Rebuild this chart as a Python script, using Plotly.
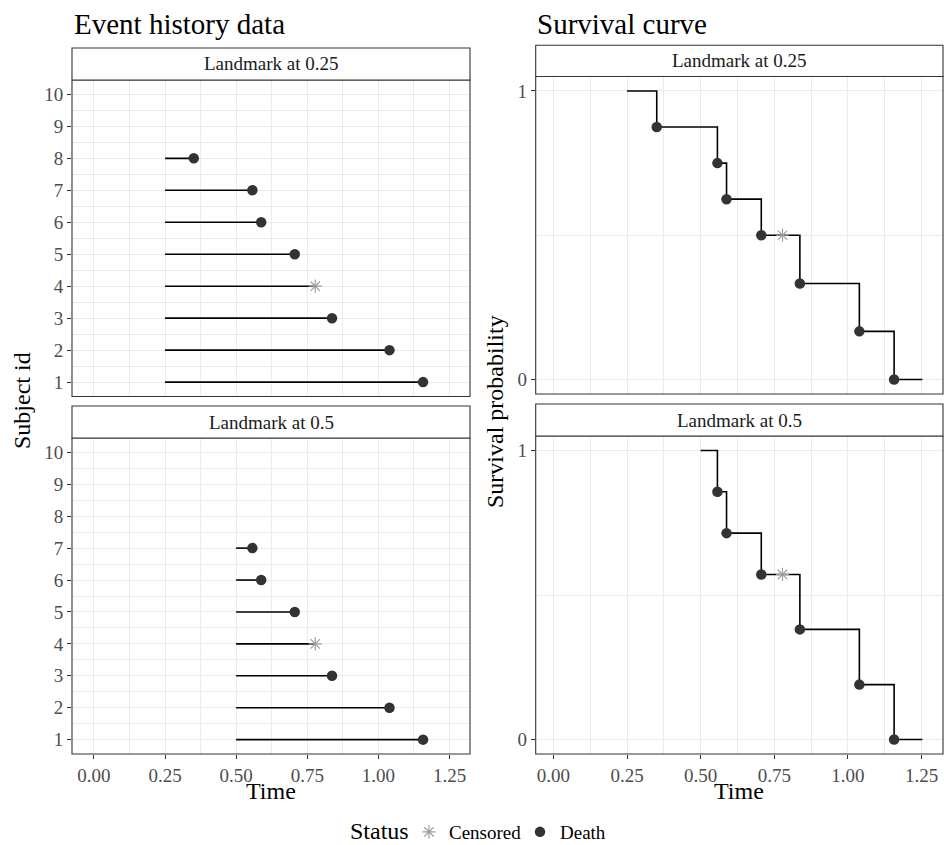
import plotly.graph_objects as go

W, H = 944, 845
FONT = "Liberation Serif"

# ---------------- data ----------------
subject_ids = [1, 2, 3, 4, 5, 6, 7, 8]
event_times = [1.157, 1.039, 0.837, 0.778, 0.706, 0.588, 0.557, 0.351]
event_status = ["Death", "Death", "Death", "Censored", "Death", "Death", "Death", "Death"]
landmarks = [0.25, 0.5]
strip_labels = ["Landmark at 0.25", "Landmark at 0.5"]

# survival curves
surv_times = {
    0.25: [0.25, 0.351, 0.557, 0.588, 0.706, 0.778, 0.837, 1.039, 1.157, 1.253],
    0.5: [0.5, 0.557, 0.588, 0.706, 0.778, 0.837, 1.039, 1.157, 1.253],
}
surv_probs = {
    0.25: [1.0, 0.875, 0.75, 0.625, 0.5, 0.5, 0.333, 0.167, 0.0, 0.0],
    0.5: [1.0, 0.857, 0.714, 0.571, 0.571, 0.381, 0.190, 0.0, 0.0],
}
surv_status = {
    0.25: [None, "Death", "Death", "Death", "Death", "Censored", "Death", "Death", "Death", None],
    0.5: [None, "Death", "Death", "Death", "Censored", "Death", "Death", "Death", None],
}

x_ticks = [0.0, 0.25, 0.5, 0.75, 1.0, 1.25]
id_ticks = list(range(1, 11))
prob_ticks = [0, 1]

DEATH_COLOR = "#333333"
CENS_COLOR = "#9E9E9E"
GRID = "#EBEBEB"
BORDER = "#333333"
TICKFONT = dict(family=FONT, size=19, color="#4D4D4D")


def xd(a, b):
    return [a / W, b / W]


def yd(top, bottom):
    return [1 - bottom / H, 1 - top / H]


# panel geometry in pixels: (left, right, strip_top, plot_top, plot_bottom)
panels = {
    "LT": (72, 470, 48, 80, 396.5),
    "LB": (72, 470, 406, 438, 754),
    "RT": (535.7, 943, 45.3, 76.5, 394),
    "RB": (535.7, 943, 404, 436, 754),
}
axis_ids = {"LT": "", "LB": "2", "RT": "3", "RB": "4"}

fig = go.Figure()
layout = dict()

for key, (l, r, st, pt, pb) in panels.items():
    n = axis_ids[key]
    left_side = key.startswith("L")
    bottom = key.endswith("B")
    xa = dict(
        domain=xd(l, r), anchor="y" + n, zeroline=False, showline=False,
        range=[-0.077, 1.322] if left_side else [-0.06, 1.323],
        tickvals=x_ticks, tickformat=".2f",
        showticklabels=bottom,
        ticks="outside" if bottom else "", ticklen=4, tickcolor=BORDER, tickwidth=1,
        showgrid=True, gridcolor=GRID, gridwidth=1.1,
        minor=dict(dtick=0.125, tick0=0, showgrid=True, gridcolor=GRID, gridwidth=0.6),
        tickfont=TICKFONT,
    )
    if left_side:
        ya = dict(
            domain=yd(pt, pb), anchor="x" + n, zeroline=False, showline=False,
            range=[0.55, 10.45], tickvals=id_ticks,
            ticks="outside", ticklen=4, tickcolor=BORDER, tickwidth=1,
            showgrid=True, gridcolor=GRID, gridwidth=1.1,
            minor=dict(dtick=0.5, tick0=0.5, showgrid=True, gridcolor=GRID, gridwidth=0.6),
            tickfont=TICKFONT,
        )
    else:
        ya = dict(
            domain=yd(pt, pb), anchor="x" + n, zeroline=False, showline=False,
            range=[-0.05, 1.05], tickvals=prob_ticks, ticktext=[str(v) for v in prob_ticks],
            ticks="outside", ticklen=4, tickcolor=BORDER, tickwidth=1,
            showgrid=True, gridcolor=GRID, gridwidth=1.1,
            minor=dict(tickvals=[0.5], showgrid=True, gridcolor=GRID, gridwidth=0.6),
            tickfont=TICKFONT,
        )
    layout["xaxis" + n] = xa
    layout["yaxis" + n] = ya

shapes = []
annotations = []
for key, (l, r, st, pt, pb) in panels.items():
    shapes.append(dict(type="rect", xref="paper", yref="paper",
                       x0=l / W, x1=r / W, y0=1 - pb / H, y1=1 - pt / H,
                       line=dict(color=BORDER, width=1.1), fillcolor="rgba(0,0,0,0)", layer="above"))
    shapes.append(dict(type="rect", xref="paper", yref="paper",
                       x0=l / W, x1=r / W, y0=1 - pt / H, y1=1 - st / H,
                       line=dict(color=BORDER, width=1.1), fillcolor="white", layer="above"))
    lab = strip_labels[0] if key.endswith("T") else strip_labels[1]
    annotations.append(dict(text=lab, xref="paper", yref="paper", x=(l + r) / 2 / W,
                            y=1 - (st + pt) / 2 / H, showarrow=False, xanchor="center",
                            yanchor="middle", font=dict(family=FONT, size=19, color="#1A1A1A")))

# ---- event history panels ----
legend_done = {"Death": False, "Censored": False}
for lm, key in zip(landmarks, ["LT", "LB"]):
    n = axis_ids[key]
    sx, sy = [], []
    dx, dy, cx, cy = [], [], [], []
    for sid, t, s in zip(subject_ids, event_times, event_status):
        if t <= lm:
            continue
        sx += [lm, t, None]
        sy += [sid, sid, None]
        if s == "Death":
            dx.append(t); dy.append(sid)
        else:
            cx.append(t); cy.append(sid)
    fig.add_trace(go.Scatter(x=sx, y=sy, mode="lines", line=dict(color="black", width=1.6),
                             showlegend=False, hoverinfo="skip", xaxis="x" + n, yaxis="y" + n))
    fig.add_trace(go.Scatter(x=cx, y=cy, mode="markers", name="Censored", legendgroup="c",
                             legendrank=1, showlegend=not legend_done["Censored"],
                             marker=dict(symbol="asterisk-open", size=11, color=CENS_COLOR,
                                         line=dict(color=CENS_COLOR, width=1.2)),
                             xaxis="x" + n, yaxis="y" + n))
    legend_done["Censored"] = True
    fig.add_trace(go.Scatter(x=dx, y=dy, mode="markers", name="Death", legendgroup="d",
                             legendrank=2, showlegend=not legend_done["Death"],
                             marker=dict(symbol="circle", size=10.5, color=DEATH_COLOR),
                             xaxis="x" + n, yaxis="y" + n))
    legend_done["Death"] = True

# ---- survival panels ----
for lm, key in zip(landmarks, ["RT", "RB"]):
    n = axis_ids[key]
    ts, ps, ss = surv_times[lm], surv_probs[lm], surv_status[lm]
    fig.add_trace(go.Scatter(x=ts, y=ps, mode="lines", line=dict(color="black", width=1.6, shape="hv"),
                             showlegend=False, hoverinfo="skip", xaxis="x" + n, yaxis="y" + n))
    cx = [t for t, s in zip(ts, ss) if s == "Censored"]
    cy = [p for p, s in zip(ps, ss) if s == "Censored"]
    dx = [t for t, s in zip(ts, ss) if s == "Death"]
    dy = [p for p, s in zip(ps, ss) if s == "Death"]
    fig.add_trace(go.Scatter(x=cx, y=cy, mode="markers", name="Censored", legendgroup="c",
                             showlegend=False,
                             marker=dict(symbol="asterisk-open", size=11, color=CENS_COLOR,
                                         line=dict(color=CENS_COLOR, width=1.2)),
                             xaxis="x" + n, yaxis="y" + n))
    fig.add_trace(go.Scatter(x=dx, y=dy, mode="markers", name="Death", legendgroup="d",
                             showlegend=False,
                             marker=dict(symbol="circle", size=10.5, color=DEATH_COLOR),
                             xaxis="x" + n, yaxis="y" + n))

annotations += [
    dict(text="Event history data", xref="paper", yref="paper", x=72 / W, y=1 - 24 / H,
         xanchor="left", yanchor="middle", showarrow=False,
         font=dict(family=FONT, size=29, color="black")),
    dict(text="Survival curve", xref="paper", yref="paper", x=535 / W, y=1 - 24 / H,
         xanchor="left", yanchor="middle", showarrow=False,
         font=dict(family=FONT, size=29, color="black")),
    dict(text="Time", xref="paper", yref="paper", x=271 / W, y=1 - 791 / H,
         xanchor="center", yanchor="middle", showarrow=False,
         font=dict(family=FONT, size=24, color="black")),
    dict(text="Time", xref="paper", yref="paper", x=739 / W, y=1 - 791 / H,
         xanchor="center", yanchor="middle", showarrow=False,
         font=dict(family=FONT, size=24, color="black")),
    dict(text="Subject id", xref="paper", yref="paper", x=22 / W, y=1 - 401 / H,
         xanchor="center", yanchor="middle", showarrow=False, textangle=-90,
         font=dict(family=FONT, size=24, color="black")),
    dict(text="Survival probability", xref="paper", yref="paper", x=495 / W, y=1 - 412 / H,
         xanchor="center", yanchor="middle", showarrow=False, textangle=-90,
         font=dict(family=FONT, size=24, color="black")),
    dict(text="Status", xref="paper", yref="paper", x=379 / W, y=1 - 831 / H,
         xanchor="center", yanchor="middle", showarrow=False,
         font=dict(family=FONT, size=24, color="black")),
]

fig.update_layout(
    **layout,
    width=W, height=H,
    margin=dict(l=0, r=0, t=0, b=0, autoexpand=False),
    paper_bgcolor="white", plot_bgcolor="white",
    font=dict(family=FONT),
    shapes=shapes, annotations=annotations,
    showlegend=True,
    legend=dict(orientation="h", x=409 / W, xanchor="left", y=1 - 832 / H, yanchor="middle",
                entrywidth=66, entrywidthmode="pixels",
                font=dict(family=FONT, size=19, color="black"), bgcolor="rgba(0,0,0,0)"),
)

fig.write_html("out.html")
